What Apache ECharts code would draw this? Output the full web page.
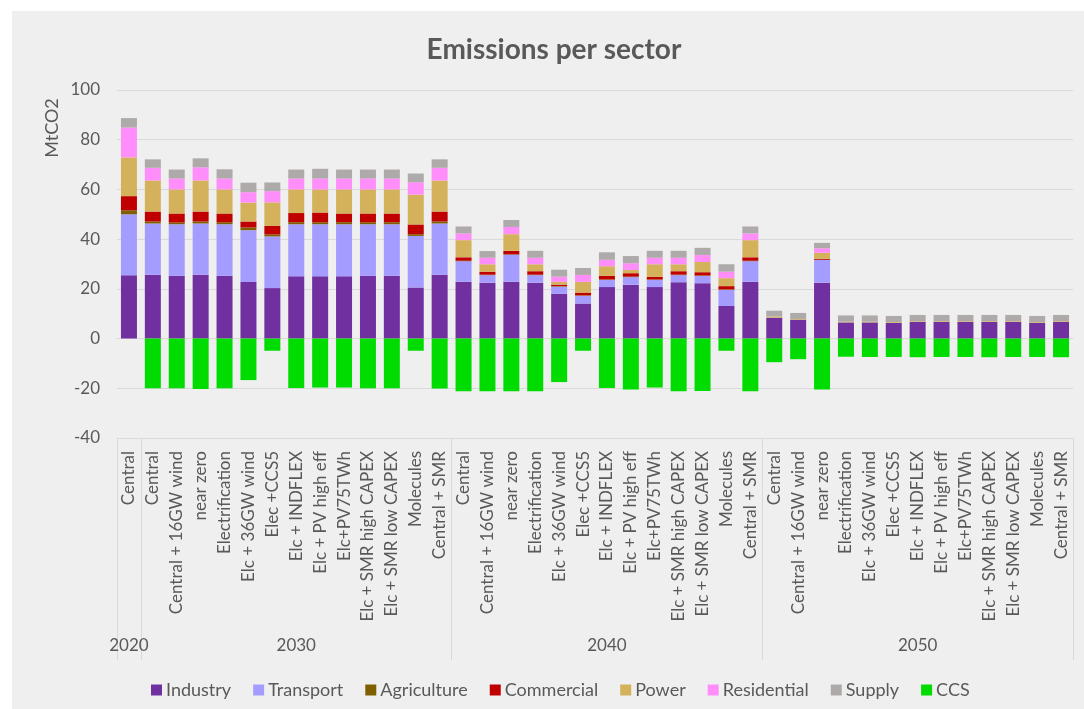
<!DOCTYPE html>
<html>
<head>
<meta charset="utf-8">
<script src="https://cdn.jsdelivr.net/npm/echarts@6/dist/echarts.min.js"></script>
<style>
  html, body { margin: 0; padding: 0; background: #ffffff; }
  #bg { position: absolute; left: 12px; top: 11px; width: 1072px; height: 698px; background: #efefef; }
  #chart { position: absolute; left: 0; top: 0; width: 1084px; height: 709px; }
</style>
</head>
<body>
<div id="bg"></div>
<div id="chart"></div>
<script>
// ---- data ----
const years = ['2020', '2030', '2040', '2050'];
const yearCounts = [1, 13, 13, 13];
const scenarios2020 = ['Central'];
const scenariosLater = ['Central', 'Central + 16GW wind', 'near zero', 'Electrification', 'Elc + 36GW wind',
  'Elec +CCS5', 'Elc + INDFLEX', 'Elc + PV high eff', 'Elc+PV75TWh', 'Elc + SMR high CAPEX',
  'Elc + SMR low CAPEX', 'Molecules', 'Central + SMR'];
const categories = scenarios2020.concat(scenariosLater, scenariosLater, scenariosLater);

const seriesNames = ['Industry', 'Transport', 'Agriculture', 'Commercial', 'Power', 'Residential', 'Supply', 'CCS'];

const industry = [25.5,
  25.7, 25.3, 25.7, 25.3, 22.8, 20.3, 25.1, 25.1, 25.1, 25.3, 25.3, 20.5, 25.7,
  22.9, 22.5, 22.9, 22.5, 18.0, 14.1, 20.7, 21.7, 20.7, 22.7, 22.3, 13.1, 22.9,
  8.4, 7.6, 22.5, 6.5, 6.5, 6.3, 6.7, 6.7, 6.7, 6.7, 6.7, 6.3, 6.7];
const transport = [24.5,
  20.6, 20.7, 20.6, 20.7, 20.8, 20.8, 20.9, 20.9, 20.9, 20.7, 20.7, 20.8, 20.6,
  8.2, 3.0, 10.8, 3.0, 2.9, 3.1, 2.9, 3.0, 2.9, 2.8, 2.9, 6.5, 8.2,
  0, 0, 9.1, 0, 0, 0, 0, 0, 0, 0, 0, 0, 0];
const agriculture = [1.6,
  0.8, 0.7, 0.8, 0.8, 1.1, 0.8, 0.8, 0.8, 0.8, 0.8, 0.8, 0.7, 0.8,
  0.2, 0.2, 0.2, 0.2, 0.2, 0.2, 0.2, 0.2, 0.2, 0.2, 0.2, 0.2, 0.2,
  0, 0, 0.1, 0, 0, 0, 0, 0, 0, 0, 0, 0, 0];
const commercial = [5.7,
  4.0, 3.6, 4.0, 3.5, 2.4, 3.4, 3.7, 3.9, 3.5, 3.5, 3.5, 3.9, 4.0,
  1.4, 1.2, 1.4, 1.4, 0.6, 1.1, 1.4, 1.4, 1.0, 1.4, 1.3, 1.3, 1.4,
  0, 0, 0.4, 0, 0, 0, 0, 0, 0, 0, 0, 0, 0];
const power = [15.6,
  12.5, 9.7, 12.5, 9.7, 7.6, 9.5, 9.5, 9.3, 9.7, 9.7, 9.7, 12.0, 12.5,
  6.9, 3.0, 6.7, 2.8, 1.1, 4.3, 3.9, 1.3, 5.1, 2.8, 4.1, 3.2, 6.9,
  0.5, 0.3, 2.4, 0.3, 0.3, 0.3, 0.3, 0.3, 0.3, 0.3, 0.3, 0.3, 0.3];
const residential = [12.0,
  5.1, 4.4, 5.3, 4.4, 4.2, 4.5, 4.4, 4.4, 4.4, 4.4, 4.4, 5.0, 5.1,
  2.7, 2.6, 2.9, 2.6, 2.1, 2.8, 2.6, 2.7, 2.6, 2.6, 2.8, 2.6, 2.7,
  0, 0, 1.8, 0, 0, 0, 0, 0, 0, 0, 0, 0, 0];
const supply = [3.8,
  3.4, 3.6, 3.6, 3.7, 3.8, 3.5, 3.6, 3.9, 3.6, 3.6, 3.6, 3.5, 3.4,
  2.8, 2.7, 2.8, 2.8, 2.8, 2.8, 3.0, 2.9, 2.8, 2.8, 2.9, 3.0, 2.8,
  2.3, 2.4, 2.2, 2.5, 2.5, 2.5, 2.5, 2.5, 2.5, 2.5, 2.5, 2.5, 2.5];
const ccs = [0,
  -20.0, -20.0, -20.3, -20.0, -16.7, -4.9, -19.9, -19.7, -19.7, -20.0, -20.0, -4.9, -20.1,
  -21.2, -21.2, -21.2, -21.2, -17.5, -4.9, -19.9, -20.5, -19.7, -21.2, -21.1, -4.9, -21.2,
  -9.5, -8.3, -20.5, -7.3, -7.4, -7.4, -7.5, -7.4, -7.4, -7.5, -7.4, -7.4, -7.5];

const yTicks = { min: -40, max: 100, interval: 20 };

// ---- chart ----
const colors = ['#7030a0', '#a49cff', '#7f6000', '#c00000', '#d4b25c', '#ff8efa', '#aeaaaa', '#00dc00'];
const values = [industry, transport, agriculture, commercial, power, residential, supply, ccs];
const textColor = '#595959';
const font = 'Lato, "Open Sans", sans-serif';

// group boundaries and centres (in category units) for the year axis
const bounds = [0];
yearCounts.forEach(c => bounds.push(bounds[bounds.length - 1] + c));
const centres = yearCounts.map((c, i) => bounds[i] + c / 2);

const chart = echarts.init(document.getElementById('chart'), null, { renderer: 'canvas' });
chart.setOption({
  backgroundColor: 'transparent',
  animation: false,
  textStyle: { fontFamily: font, color: textColor },
  color: colors,
  title: {
    text: 'Emissions per sector',
    left: 549, top: 31, textAlign: 'center',
    textStyle: { fontFamily: font, fontSize: 28, fontWeight: 'bold', color: textColor }
  },
  legend: {
    data: seriesNames,
    left: 146, top: 676,
    itemWidth: 11, itemHeight: 11, itemGap: 22,
    icon: 'rect',
    textStyle: { fontFamily: font, fontSize: 18, color: textColor, padding: [0, 0, 0, -1] }
  },
  grid: { left: 117, right: 11, top: 90, bottom: 271, containLabel: false },
  xAxis: [
    {
      type: 'category',
      data: categories,
      axisLine: { show: true, lineStyle: { color: '#d9d9d9' } },
      axisTick: { show: false },
      axisLabel: { interval: 0, rotate: 90, margin: 13, fontSize: 17, color: textColor, fontFamily: font }
    },
    {
      type: 'value',
      min: 0, max: bounds[bounds.length - 1],
      position: 'bottom',
      axisLine: { show: false },
      splitLine: { show: false },
      axisTick: { show: true, length: 222, customValues: bounds, lineStyle: { color: '#d9d9d9' } },
      axisLabel: {
        show: true, margin: 199, fontSize: 17, color: textColor, fontFamily: font,
        customValues: centres,
        formatter: v => { const i = centres.indexOf(v); return i >= 0 ? years[i] : ''; }
      }
    }
  ],
  yAxis: {
    type: 'value',
    min: yTicks.min, max: yTicks.max, interval: yTicks.interval,
    axisLine: { show: false },
    axisTick: { show: false },
    splitLine: { lineStyle: { color: '#d9d9d9', width: 1 } },
    axisLabel: { margin: 17, fontSize: 17, color: textColor, fontFamily: font }
  },
  graphic: [{
    type: 'text',
    x: 52, y: 128, rotation: Math.PI / 2,
    style: { text: 'MtCO2', fill: textColor, font: '18px ' + font, textAlign: 'center', textVerticalAlign: 'middle' }
  }],
  series: seriesNames.map((name, i) => ({
    name: name,
    type: 'bar',
    stack: 'total',
    barWidth: 16,
    xAxisIndex: 0,
    data: values[i],
    itemStyle: { color: colors[i] }
  }))
});
</script>
</body>
</html>
